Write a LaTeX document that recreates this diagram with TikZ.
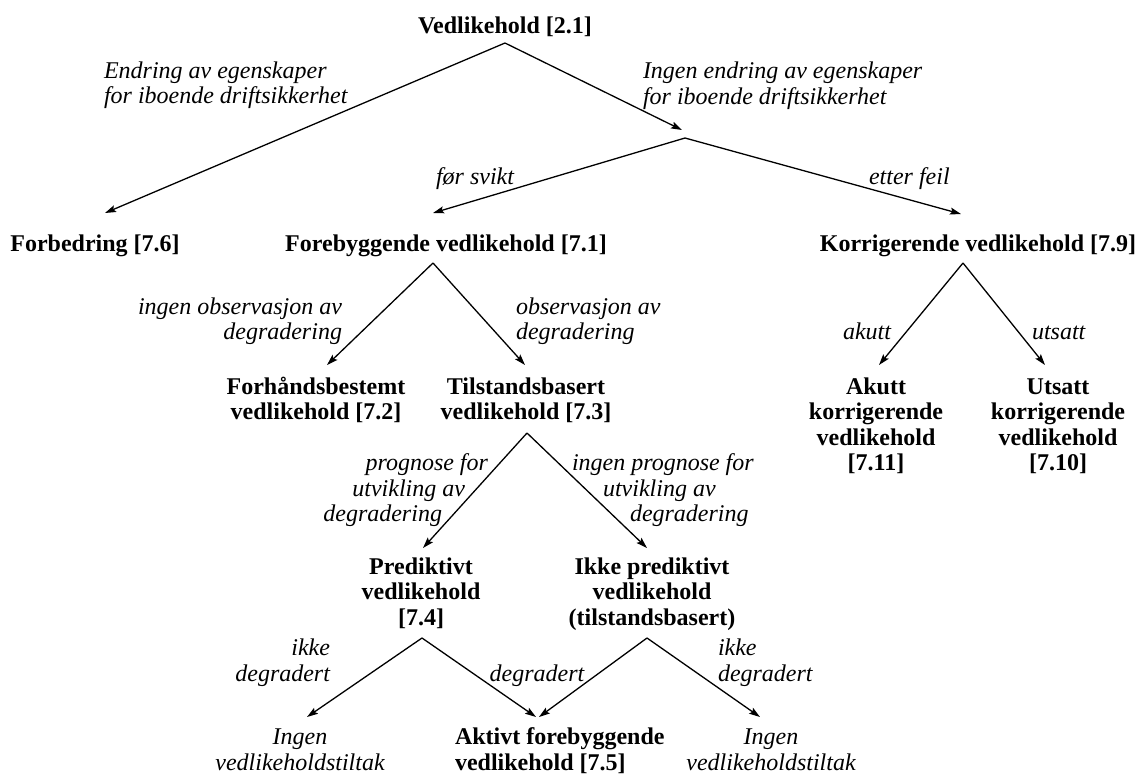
\documentclass[tikz,border=0pt]{standalone}
\usepackage{fontspec}
\setmainfont{Liberation Serif}
\usetikzlibrary{arrows.meta}
\begin{document}
\begin{tikzpicture}[x=1pt,y=-1pt,
  every node/.style={inner sep=0pt,outer sep=0pt},
  term/.style={font=\fontsize{24}{25.5}\selectfont\bfseries,align=center,anchor=base},
  cond/.style={font=\fontsize{24}{25.5}\selectfont\itshape,anchor=base},
  link/.style={line width=1.3pt,-{Stealth[length=11pt,width=7pt,inset=2pt]}}]
\useasboundingbox (0,0) rectangle (1141,774);

% ---- terms (multi-line nodes are placed by the baseline of their last line) ----
\node[term] (root) at (505,33) {Vedlikehold [2.1]};
\node[term] (forb) at (95,251) {Forbedring [7.6]};
\node[term] (fore) at (446,251) {Forebyggende vedlikehold [7.1]};
\node[term] (korr) at (978,251) {Korrigerende vedlikehold [7.9]};
\node[term] (forh) at (316,419.5) {Forhåndsbestemt\\vedlikehold [7.2]};
\node[term] (tilst) at (526,419.5) {Tilstandsbasert\\vedlikehold [7.3]};
\node[term] (akutt) at (876,470.5) {Akutt\\korrigerende\\vedlikehold\\{[7.11]}};
\node[term] (utsatt) at (1058,470.5) {Utsatt\\korrigerende\\vedlikehold\\{[7.10]}};
\node[term] (pred) at (421,625) {Prediktivt\\vedlikehold\\{[7.4]}};
\node[term] (ikkep) at (652,625) {Ikke prediktivt\\vedlikehold\\(tilstandsbasert)};
\node[term,align=left,anchor=base west] (aktiv) at (455,770) {Aktivt forebyggende\\vedlikehold [7.5]};
\node[cond,align=center] (ingenA) at (300,770) {Ingen\\vedlikeholdstiltak};
\node[cond,align=center] (ingenB) at (771,770) {Ingen\\vedlikeholdstiltak};

% ---- branch conditions ----
\node[cond,align=left,anchor=base west] (cEndr) at (104,103.5) {Endring av egenskaper\\for iboende driftsikkerhet};
\node[cond,align=left,anchor=base west] (cIngen) at (643,104) {Ingen endring av egenskaper\\for iboende driftsikkerhet};
\node[cond,anchor=base west] (cFor) at (436,184) {før svikt};
\node[cond,anchor=base west] (cEtter) at (869,184) {etter feil};
\node[cond,align=right,anchor=base east] (cIngObs) at (342,339.5) {ingen observasjon av\\degradering};
\node[cond,align=left,anchor=base west] (cObs) at (516,339.5) {observasjon av\\degradering};
\node[cond,anchor=base west] (cAkutt) at (843,339) {akutt};
\node[cond,anchor=base west] (cUtsatt) at (1032,339) {utsatt};
\node[cond,anchor=base east] (cProgA) at (488,470) {prognose for};
\node[cond,anchor=base east] (cProgB) at (465,496) {utvikling av};
\node[cond,anchor=base east] (cProgC) at (442,521) {degradering};
\node[cond,anchor=base west] (cNoProgA) at (572,470) {ingen prognose for};
\node[cond,anchor=base west] (cNoProgB) at (603,496) {utvikling av};
\node[cond,anchor=base west] (cNoProgC) at (630,521) {degradering};
\node[cond,align=right,anchor=base east] (cIkkeA) at (330,681) {ikke\\degradert};
\node[cond,anchor=base] (cDegr) at (537,681) {degradert};
\node[cond,align=left,anchor=base west] (cIkkeB) at (718,681) {ikke\\degradert};

% ---- branch points and arrow ends ----
\coordinate (aRoot) at (505,43);
\coordinate (tForb) at (105,213);
\coordinate (tSplit) at (682,130);
\coordinate (aSplit) at (685,138);
\coordinate (tFore) at (433,213);
\coordinate (tKorr) at (961,214);
\coordinate (aFore) at (433,263);
\coordinate (tForh) at (327,365);
\coordinate (tTilst) at (525,365);
\coordinate (aKorr) at (963,263);
\coordinate (tAkutt) at (879,365);
\coordinate (tUtsatt) at (1045,365);
\coordinate (aTilst) at (527,433);
\coordinate (tPred) at (423,548);
\coordinate (tIkkep) at (647,548);
\coordinate (aPred) at (422,638);
\coordinate (tIngenA) at (307,717);
\coordinate (tAktivA) at (536,717);
\coordinate (aIkkep) at (647,638);
\coordinate (tAktivB) at (539,717);
\coordinate (tIngenB) at (760,717);

% ---- connectors ----
\draw[link] (aRoot) -- (tForb);
\draw[link] (aRoot) -- (tSplit);
\draw[link] (aSplit) -- (tFore);
\draw[link] (aSplit) -- (tKorr);
\draw[link] (aFore) -- (tForh);
\draw[link] (aFore) -- (tTilst);
\draw[link] (aKorr) -- (tAkutt);
\draw[link] (aKorr) -- (tUtsatt);
\draw[link] (aTilst) -- (tPred);
\draw[link] (aTilst) -- (tIkkep);
\draw[link] (aPred) -- (tIngenA);
\draw[link] (aPred) -- (tAktivA);
\draw[link] (aIkkep) -- (tAktivB);
\draw[link] (aIkkep) -- (tIngenB);
\end{tikzpicture}
\end{document}
